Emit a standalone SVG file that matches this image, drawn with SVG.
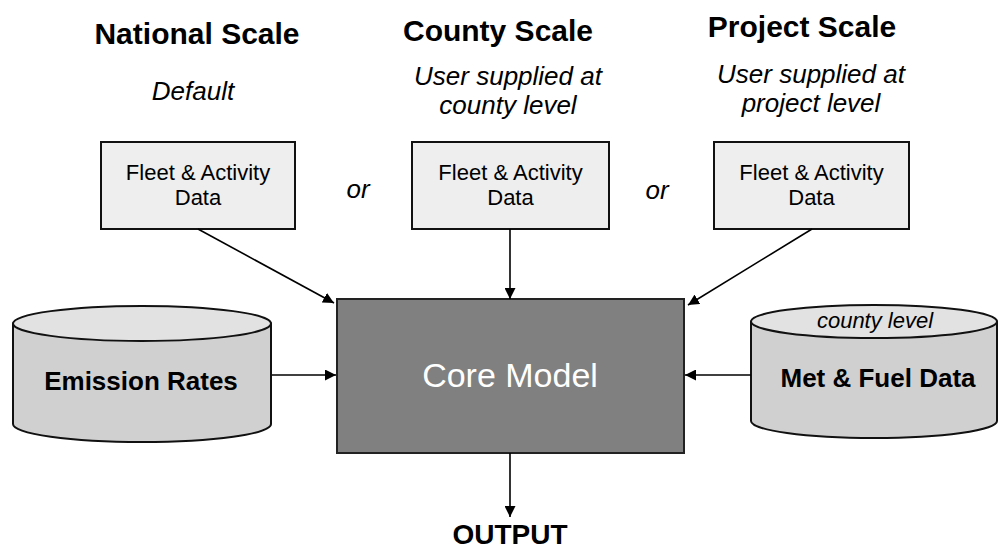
<svg xmlns="http://www.w3.org/2000/svg" width="998" height="550" viewBox="0 0 998 550">
<defs>
<style>
text{font-family:"Liberation Sans",Arial,Helvetica,sans-serif;fill:#000}
.title{font-size:30px;font-weight:bold;text-anchor:middle}
.sub{font-size:26px;font-style:italic;text-anchor:middle}
.box{fill:#eeeeee;stroke:#111;stroke-width:2}
.boxt{font-size:22px;text-anchor:middle}
.cylb{fill:#d0d0d0;stroke:#111;stroke-width:2}
.cylt{fill:#e2e2e2;stroke:#111;stroke-width:2}
.cyltext{font-size:26px;font-weight:bold;text-anchor:middle}
.conn{stroke:#000;stroke-width:1.6;fill:none;marker-end:url(#ah)}
</style>
<marker id="ah" viewBox="0 0 10 10" refX="10" refY="5" markerWidth="11" markerHeight="11" markerUnits="userSpaceOnUse" orient="auto">
<path d="M0,0 L10,5 L0,10 z" fill="#000"/>
</marker>
</defs>

<g id="titles">
<text class="title" x="197" y="44">National Scale</text>
<text class="title" x="498" y="41">County Scale</text>
<text class="title" x="802" y="37">Project Scale</text>
<text class="sub" x="193" y="100">Default</text>
<text class="sub" x="508" y="85">User supplied at</text>
<text class="sub" x="508" y="114">county level</text>
<text class="sub" x="811" y="83">User supplied at</text>
<text class="sub" x="811" y="112">project level</text>
<text class="sub" x="358" y="198">or</text>
<text class="sub" x="657" y="199">or</text>
</g>

<g id="fleet-national">
<rect class="box" x="101" y="142" width="194" height="87"/>
<text class="boxt" x="198" y="180">Fleet &amp; Activity</text>
<text class="boxt" x="198" y="205">Data</text>
</g>
<g id="fleet-county">
<rect class="box" x="412" y="142" width="197" height="87"/>
<text class="boxt" x="510.5" y="180">Fleet &amp; Activity</text>
<text class="boxt" x="510.5" y="205">Data</text>
</g>
<g id="fleet-project">
<rect class="box" x="714" y="142" width="195" height="87"/>
<text class="boxt" x="811.5" y="180">Fleet &amp; Activity</text>
<text class="boxt" x="811.5" y="205">Data</text>
</g>

<g id="core-model">
<rect x="337" y="299" width="347" height="154" fill="#808080" stroke="#222" stroke-width="2"/>
<text x="510" y="387" font-size="34" text-anchor="middle" style="fill:#fff">Core Model</text>
</g>

<g id="emission-rates">
<path class="cylb" d="M13,323.5 L13,424 A129,18 0 0 0 271,424 L271,323.5 Z"/>
<ellipse class="cylt" cx="142" cy="323.5" rx="129" ry="17.5"/>
<text class="cyltext" x="141" y="390">Emission Rates</text>
</g>

<g id="met-fuel">
<path class="cylb" d="M751,321.5 L751,421 A123,17 0 0 0 997,421 L997,321.5 Z"/>
<ellipse class="cylt" cx="874" cy="321.5" rx="123" ry="16.5"/>
<text x="875" y="328" font-size="22" font-style="italic" text-anchor="middle">county level</text>
<text class="cyltext" x="878" y="387">Met &amp; Fuel Data</text>
</g>

<g id="output">
<text x="510" y="544" font-size="28" font-weight="bold" text-anchor="middle">OUTPUT</text>
</g>

<g id="connectors">
<line class="conn" x1="198" y1="229" x2="334" y2="303"/>
<line class="conn" x1="510" y1="229" x2="510" y2="299"/>
<line class="conn" x1="812" y1="229" x2="688" y2="305"/>
<line class="conn" x1="272" y1="375" x2="336" y2="375"/>
<line class="conn" x1="751" y1="375" x2="685" y2="375"/>
<line class="conn" x1="510" y1="453" x2="510" y2="517"/>
</g>
</svg>
